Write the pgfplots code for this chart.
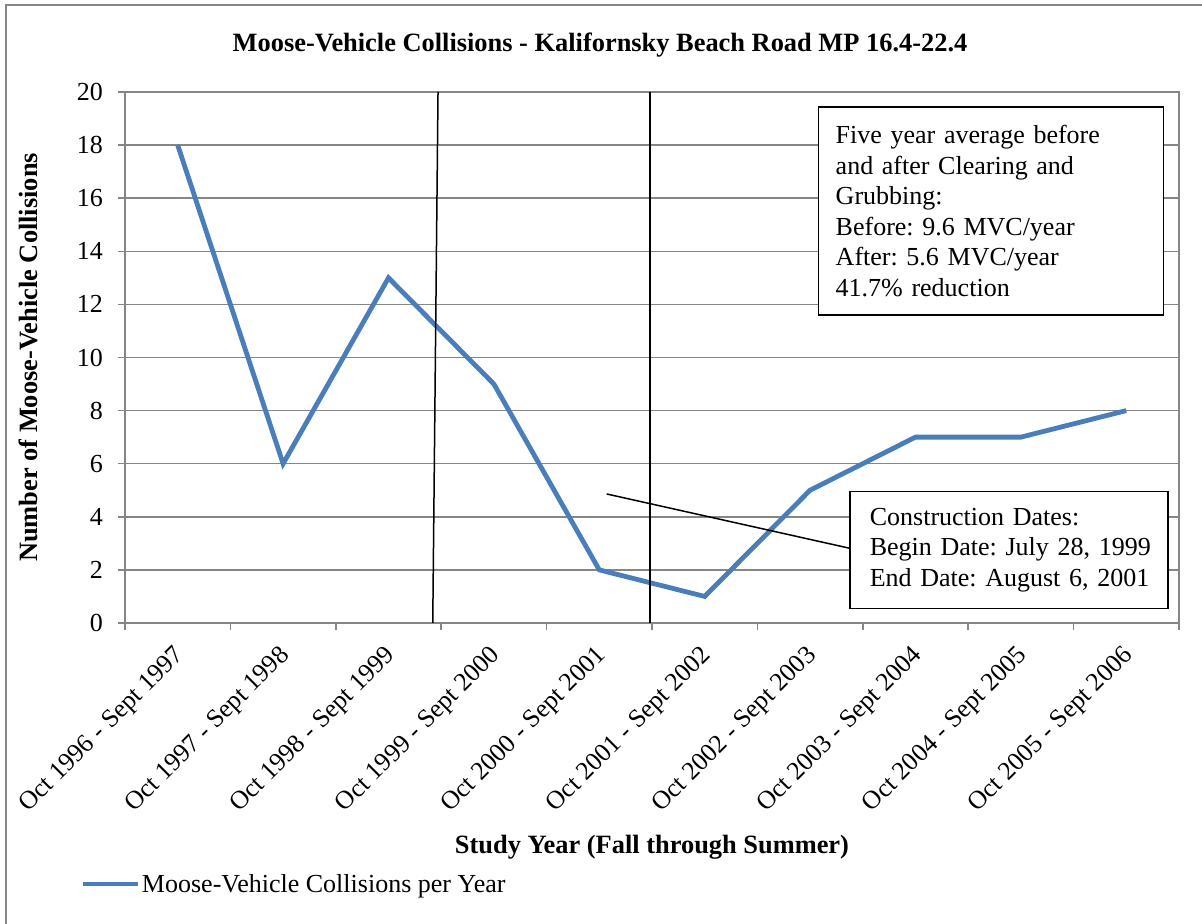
\documentclass[border=0pt]{standalone}
\usepackage{pgfplots}
\pgfplotsset{compat=1.18}
\usepackage{fontspec}
\setmainfont{Liberation Serif}
\definecolor{gridgray}{RGB}{134,134,134}
\definecolor{mvcblue}{RGB}{74,126,187}
\newcommand\fs{\fontsize{26bp}{30.5bp}\selectfont\frenchspacing}
\newcommand\fb{\fontsize{26.4bp}{30.5bp}\selectfont\bfseries\frenchspacing}
\begin{document}
\begin{tikzpicture}[x=1bp,y=1bp]
\useasboundingbox (0,0) rectangle (1202,924);
\draw[gridgray, line width=2bp] (6,0) -- (6,919) -- (1202,919);
\begin{axis}[
  at={(125bp,301bp)}, anchor=south west,
  scale only axis, width=1054bp, height=531bp,
  xmin=-0.5, xmax=9.5, ymin=0, ymax=20,
  xtick={0,...,9},
  xticklabels={Oct 1996 - Sept 1997, Oct 1997 - Sept 1998, Oct 1998 - Sept 1999, Oct 1999 - Sept 2000, Oct 2000 - Sept 2001, Oct 2001 - Sept 2002, Oct 2002 - Sept 2003, Oct 2003 - Sept 2004, Oct 2004 - Sept 2005, Oct 2005 - Sept 2006},
  minor xtick={-0.5,0.5,...,9.5},
  ytick={0,2,...,20},
  ymajorgrids,
  major grid style={gridgray, line width=1.5bp},
  axis line style={gridgray, line width=1.5bp},
  tick style={gridgray, line width=1.5bp},
  major x tick style={draw=none},
  tick align=outside, major tick length=7bp, minor tick length=7bp,
  xtick pos=bottom, ytick pos=left,
  /pgf/number format/assume math mode=true,
  yticklabel style={font=\fs, anchor=east, inner sep=0pt, xshift=-15bp},
  xticklabel style={font=\fontsize{25.8bp}{30bp}\selectfont, inner sep=0pt, xshift=-5bp, yshift=-14bp, rotate=45, anchor=north east},
  title={Moose-Vehicle Collisions - Kalifornsky Beach Road MP 16.4-22.4},
  title style={font=\fb, at={(axis description cs:0.4507,1.0772)}, anchor=center},
  xlabel={Study Year (Fall through Summer)},
  xlabel style={font=\fb, at={(axis description cs:0.5,-0.4218)}, anchor=center},
  ylabel={Number of Moose-Vehicle Collisions},
  ylabel style={font=\fb, at={(axis description cs:-0.092,0.5)}, anchor=center, rotate=0},
  legend style={font=\fs, at={(axis description cs:-0.0427,-0.4915)}, anchor=west, draw=none, fill=none, inner sep=0pt, cells={anchor=west}},
  legend image code/.code={\draw[#1] (0bp,0bp) -- (55bp,0bp);},
]
\addplot[mvcblue, line width=4.8bp] coordinates {(0,18) (1,6) (2,13) (3,9) (4,2) (5,1) (6,5) (7,7) (8,7) (9,8)};
\addlegendentry{Moose-Vehicle Collisions per Year}
\addplot[black, line width=1.5bp, forget plot] coordinates {(2.47,20) (2.42,0)};
\addplot[black, line width=1.5bp, forget plot] coordinates {(4.48,20) (4.48,0)};
\addplot[black, line width=1.5bp, forget plot] coordinates {(4.07,4.86) (6.37,2.82)};
\node[draw=black, line width=1.5bp, fill=white, anchor=north west, minimum width=345bp, minimum height=208bp, text width=320bp, inner xsep=12.5bp, inner ysep=0pt, align=left, font=\fs] at (axis cs:6.075,19.47) {\hspace*{4.5bp}Five year average before\\\hspace*{4.5bp}and after Clearing and\\\hspace*{4.5bp}Grubbing:\\\hspace*{4.5bp}Before: 9.6 MVC/year\\\hspace*{4.5bp}After: 5.6 MVC/year\\\hspace*{4.5bp}41.7\% reduction};
\node[draw=black, line width=1.5bp, fill=white, anchor=north west, minimum width=318bp, minimum height=117bp, text width=298bp, inner xsep=10bp, inner ysep=0pt, align=left, font=\fs] at (axis cs:6.37,4.98) {\hspace*{10bp}Construction Dates:\\\hspace*{10bp}Begin Date: July 28, 1999\\\hspace*{10bp}End Date: August 6, 2001};
\end{axis}
\end{tikzpicture}
\end{document}
